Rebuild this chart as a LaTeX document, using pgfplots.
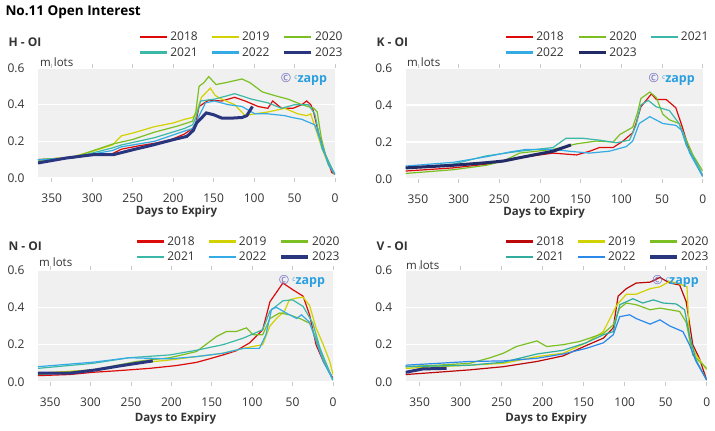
\documentclass[border=0pt]{standalone}
\usepackage{fontspec}
\setmainfont{Open Sans}
\usepackage{pgfplots}
\pgfplotsset{compat=1.18}
\definecolor{c18}{HTML}{DD0A0A}
\definecolor{c19}{HTML}{D2D200}
\definecolor{c20}{HTML}{7CBF22}
\definecolor{c21}{HTML}{3CB8A8}
\definecolor{c22}{HTML}{35ABE6}
\definecolor{c23}{HTML}{2A3580}
\definecolor{bggray}{HTML}{F0F0F0}
\definecolor{txt}{HTML}{333333}
\definecolor{tickgray}{HTML}{C8C8C8}
\definecolor{czpurple}{HTML}{6B6BC0}
\definecolor{czblue}{HTML}{2A9FE0}
\newcommand{\lgd}[2]{\addlegendimage{draw=#1, line width=2.2bp}\addlegendentry{\textcolor{txt}{#2}}}
\newcommand{\lgdthick}[2]{\addlegendimage{draw=#1, line width=3.6bp}\addlegendentry{\textcolor{txt}{#2}}}
\pgfplotsset{
  oi/.style={
    scale only axis,
    xmin=0, xmax=367, x dir=reverse,
    ymin=0, ymax=0.6,
    xtick={0,50,...,350},
    ytick={0,0.2,0.4,0.6},
    yticklabel style={/pgf/number format/fixed, /pgf/number format/fixed zerofill, /pgf/number format/precision=1},
    /pgf/number format/assume math mode=true,
    axis background/.style={fill=bggray},
    ymajorgrids, major grid style={white, line width=1.2bp},
    axis line style={draw=none},
    tick align=outside,
    major tick length=4bp,
    xtick style={draw=tickgray, line width=0.6bp},
    ytick style={draw=none},
    tick label style={font=\fontsize{12bp}{14bp}\selectfont, text=txt},
    xticklabel style={anchor=center, yshift=-16bp},
    yticklabel style={anchor=east, xshift=-6bp},
    xlabel={Days to Expiry},
    xlabel style={font=\bfseries\fontsize{11.5bp}{13bp}\selectfont, text=txt, anchor=center, xshift=-10bp},
    legend columns=3,
    legend cell align=left,
    legend style={draw=none, fill=none, anchor=north west, inner xsep=0pt, inner ysep=0pt,
      font=\fontsize{12bp}{14bp}\selectfont, row sep=3bp,
      nodes={inner xsep=2bp, inner ysep=1bp},
      /tikz/every even column/.append style={column sep=11bp}},
    legend image code/.code={\draw[#1] (0bp,0bp) -- (27bp,0bp);},
    every axis plot/.append style={line width=1.2bp, mark=none, forget plot},
  },
}
\newcommand{\czapp}{\node[anchor=east, font=\fontsize{12.5bp}{14bp}\selectfont] at (axis description cs:0.985,0.9) {{\color{czpurple}\textcopyright}\ {\color{czblue}\raisebox{0.35ex}{\fontsize{6.5bp}{7bp}\selectfont c}\textbf{zapp}}};}
\begin{document}
\begin{tikzpicture}
\path[use as bounding box] (0,0) rectangle (715bp,431bp);
\node[anchor=west, font=\bfseries\fontsize{13.5bp}{16bp}\selectfont, text=black] at (2bp,419bp) {No.11 Open Interest};
% ---------------- H ----------------
\begin{axis}[oi, at={(38bp,363bp)}, anchor=north west, width=297bp, height=110bp,
  xlabel style={at={(axis description cs:0.5,-0.309)}},
  legend style={at={(axis description cs:0.34,1.336)}}]
\lgd{c18}{2018}\lgd{c19}{2019}\lgd{c20}{2020}\lgd{c21}{2021}\lgd{c22}{2022}\lgdthick{c23}{2023}
\addplot[c18] coordinates {(367,0.10)(350,0.105)(325,0.11)(300,0.127)(275,0.133)(264,0.157)(243,0.175)(222,0.19)(202,0.21)(186,0.24)(176,0.27)(172,0.30)(168,0.39)(156,0.425)(140,0.42)(124,0.44)(111,0.42)(95,0.39)(83,0.38)(77,0.42)(66,0.38)(52,0.38)(41,0.40)(35,0.42)(30,0.40)(27,0.37)(20,0.24)(12,0.13)(4,0.03)(0,0.02)};
\addplot[c19] coordinates {(367,0.10)(350,0.105)(325,0.115)(300,0.145)(275,0.18)(264,0.23)(250,0.245)(223,0.28)(200,0.30)(186,0.32)(176,0.33)(172,0.35)(165,0.44)(154,0.49)(148,0.45)(140,0.43)(124,0.40)(111,0.34)(99,0.35)(83,0.36)(62,0.38)(46,0.35)(35,0.34)(30,0.35)(27,0.31)(16,0.16)(8,0.07)(0,0.02)};
\addplot[c20] coordinates {(367,0.093)(350,0.10)(325,0.11)(305,0.14)(275,0.185)(264,0.196)(250,0.21)(223,0.25)(194,0.284)(176,0.31)(172,0.36)(168,0.50)(162,0.52)(156,0.553)(147,0.51)(135,0.52)(115,0.54)(105,0.52)(90,0.47)(75,0.45)(58,0.43)(41,0.40)(26,0.38)(22,0.36)(17,0.22)(12,0.13)(2,0.03)(0,0.02)};
\addplot[c21] coordinates {(367,0.10)(350,0.105)(325,0.11)(300,0.136)(275,0.164)(264,0.18)(223,0.22)(186,0.27)(176,0.29)(172,0.33)(166,0.42)(149,0.43)(132,0.45)(124,0.46)(103,0.43)(83,0.41)(66,0.38)(50,0.40)(33,0.40)(25,0.35)(16,0.16)(8,0.09)(0,0.02)};
\addplot[c22] coordinates {(367,0.10)(350,0.10)(325,0.108)(300,0.13)(275,0.15)(264,0.17)(223,0.20)(190,0.25)(176,0.27)(170,0.32)(160,0.41)(149,0.42)(132,0.40)(115,0.39)(99,0.35)(83,0.35)(62,0.34)(53,0.33)(41,0.32)(25,0.29)(16,0.18)(8,0.07)(0,0.02)};
\addplot[c23, line width=3bp] coordinates {(367,0.082)(350,0.095)(332,0.109)(299,0.127)(274,0.127)(249,0.155)(225,0.18)(200,0.209)(183,0.227)(175,0.26)(171,0.30)(159,0.355)(150,0.345)(140,0.327)(126,0.327)(115,0.33)(109,0.34)(102,0.39)};
\czapp
\end{axis}
% ---------------- K ----------------
\begin{axis}[oi, at={(405.7bp,363bp)}, anchor=north west, width=297bp, height=111bp, xmax=365,
  xlabel style={at={(axis description cs:0.5,-0.30)}},
  legend style={at={(axis description cs:0.334,1.333)}}]
\lgd{c18}{2018}\lgd{c20}{2020}\lgd{c21}{2021}\lgd{c22}{2022}\lgdthick{c23!80!black}{2023}
\addplot[c18] coordinates {(365,0.043)(307,0.06)(266,0.08)(225,0.115)(184,0.14)(155,0.13)(139,0.15)(127,0.17)(110,0.17)(98,0.205)(86,0.25)(82,0.30)(76,0.39)(63,0.46)(57,0.43)(45,0.43)(33,0.385)(25,0.28)(16,0.15)(8,0.09)(0,0.016)};
\addplot[c20] coordinates {(365,0.03)(307,0.05)(266,0.074)(245,0.097)(225,0.14)(184,0.16)(155,0.19)(131,0.205)(110,0.20)(102,0.24)(86,0.28)(80,0.36)(76,0.435)(65,0.47)(57,0.44)(49,0.35)(41,0.32)(29,0.30)(20,0.21)(12,0.13)(0,0.043)};
\addplot[c21] coordinates {(365,0.06)(307,0.08)(266,0.125)(225,0.15)(184,0.17)(168,0.22)(147,0.22)(127,0.21)(106,0.196)(90,0.21)(82,0.29)(76,0.40)(67,0.425)(57,0.39)(41,0.37)(29,0.30)(20,0.18)(8,0.09)(0,0.02)};
\addplot[c22] coordinates {(365,0.07)(307,0.09)(266,0.12)(237,0.146)(217,0.16)(184,0.16)(164,0.15)(139,0.14)(115,0.15)(94,0.175)(86,0.205)(78,0.30)(65,0.337)(49,0.30)(33,0.29)(25,0.26)(16,0.14)(0,0.013)};
\addplot[c23!80!black, line width=3bp] coordinates {(365,0.06)(307,0.074)(266,0.088)(245,0.097)(225,0.115)(204,0.133)(184,0.15)(162,0.184)};
\czapp
\end{axis}
% ---------------- N ----------------
\begin{axis}[oi, at={(38bp,161bp)}, anchor=north west, width=295bp, height=112bp, xmax=365,
  xlabel style={at={(axis description cs:0.5,-0.324)}},
  legend style={at={(axis description cs:0.332,1.31)}}]
\lgd{c18}{2018}\lgd{c19}{2019}\lgd{c20}{2020}\lgd{c21}{2021}\lgd{c22}{2022}\lgdthick{c23}{2023}
\addplot[c18] coordinates {(365,0.034)(326,0.04)(297,0.052)(268,0.06)(227,0.073)(194,0.088)(169,0.105)(153,0.124)(136,0.145)(120,0.167)(103,0.21)(87,0.28)(78,0.43)(70,0.48)(62,0.53)(50,0.495)(37,0.46)(29,0.36)(21,0.20)(12,0.11)(0,0.02)};
\addplot[c19] coordinates {(365,0.047)(297,0.065)(243,0.10)(202,0.118)(169,0.136)(136,0.154)(111,0.18)(87,0.20)(78,0.30)(70,0.34)(60,0.38)(54,0.44)(45,0.45)(37,0.455)(29,0.41)(21,0.29)(12,0.20)(4,0.11)(0,0.04)};
\addplot[c20] coordinates {(365,0.04)(297,0.065)(243,0.11)(202,0.13)(169,0.163)(144,0.244)(132,0.27)(120,0.27)(107,0.29)(99,0.253)(87,0.253)(78,0.34)(66,0.37)(54,0.36)(41,0.34)(29,0.315)(21,0.235)(12,0.127)(0,0.01)};
\addplot[c21] coordinates {(365,0.073)(297,0.10)(252,0.13)(202,0.145)(169,0.17)(136,0.20)(111,0.235)(87,0.28)(78,0.38)(62,0.435)(50,0.44)(37,0.405)(25,0.315)(16,0.18)(0,0.01)};
\addplot[c22] coordinates {(365,0.082)(297,0.106)(252,0.13)(202,0.124)(169,0.136)(136,0.154)(111,0.18)(91,0.18)(83,0.253)(76,0.39)(70,0.40)(58,0.37)(45,0.34)(39,0.36)(29,0.32)(21,0.22)(12,0.11)(0,0.01)};
\addplot[c23, line width=3bp] coordinates {(365,0.047)(326,0.047)(293,0.065)(264,0.086)(243,0.10)(223,0.113)};
\czapp
\end{axis}
% ---------------- V ----------------
\begin{axis}[oi, at={(405.7bp,161bp)}, anchor=north west, width=301bp, height=112bp,
  xlabel style={at={(axis description cs:0.5,-0.324)}},
  legend style={at={(axis description cs:0.33,1.31)}}]
\lgd{c18!85!black}{2018}\lgd{c19}{2019}\lgd{c20}{2020}\lgd{c21!80!teal}{2021}\lgd{c22!80!blue}{2022}\lgdthick{c23}{2023}
\addplot[c18!85!black] coordinates {(367,0.04)(329,0.052)(289,0.065)(248,0.082)(207,0.11)(175,0.14)(147,0.195)(126,0.235)(114,0.29)(108,0.46)(98,0.50)(86,0.53)(69,0.535)(57,0.56)(45,0.53)(33,0.52)(25,0.43)(17,0.20)(9,0.127)(0,0.01)};
\addplot[c19] coordinates {(367,0.073)(329,0.082)(289,0.09)(248,0.10)(207,0.136)(175,0.154)(147,0.21)(126,0.27)(110,0.41)(98,0.47)(86,0.47)(69,0.50)(57,0.51)(45,0.54)(33,0.525)(24,0.51)(21,0.22)(13,0.145)(4,0.09)(0,0.065)};
\addplot[c20] coordinates {(367,0.082)(329,0.09)(289,0.10)(264,0.13)(248,0.154)(232,0.19)(207,0.22)(195,0.19)(175,0.20)(155,0.217)(126,0.26)(114,0.306)(106,0.396)(98,0.423)(86,0.414)(69,0.387)(57,0.396)(45,0.387)(33,0.378)(25,0.32)(17,0.145)(4,0.09)(0,0.073)};
\addplot[c21!80!teal] coordinates {(367,0.082)(289,0.09)(248,0.106)(207,0.15)(175,0.17)(147,0.21)(126,0.253)(114,0.27)(106,0.414)(90,0.446)(78,0.423)(65,0.44)(53,0.423)(37,0.418)(27,0.387)(21,0.25)(13,0.118)(0,0.01)};
\addplot[c22!80!blue] coordinates {(367,0.09)(289,0.11)(248,0.113)(207,0.127)(175,0.15)(147,0.18)(126,0.21)(114,0.253)(106,0.35)(94,0.36)(86,0.34)(69,0.31)(57,0.333)(45,0.30)(29,0.27)(21,0.20)(13,0.11)(0,0.01)};
\addplot[c23, line width=3bp] coordinates {(367,0.052)(346,0.07)(317,0.073)};
\czapp
\end{axis}
% titles
\node[anchor=west, font=\bfseries\fontsize{12bp}{14bp}\selectfont, text=txt] at (5bp,389bp) {H - OI};
\node[anchor=west, font=\bfseries\fontsize{12bp}{14bp}\selectfont, text=txt] at (373bp,389bp) {K - OI};
\node[anchor=west, font=\bfseries\fontsize{12bp}{14bp}\selectfont, text=txt] at (5bp,184.3bp) {N - OI};
\node[anchor=west, font=\bfseries\fontsize{12bp}{14bp}\selectfont, text=txt] at (373bp,184.3bp) {V - OI};
\node[anchor=west, font=\fontsize{11.5bp}{14bp}\selectfont, text=txt, inner sep=0pt] at (40bp,369bp) {m lots};
\node[anchor=west, font=\fontsize{11.5bp}{14bp}\selectfont, text=txt, inner sep=0pt] at (407bp,369bp) {m lots};
\node[anchor=west, font=\fontsize{11.5bp}{14bp}\selectfont, text=txt, inner sep=0pt] at (39bp,168.7bp) {m lots};
\node[anchor=west, font=\fontsize{11.5bp}{14bp}\selectfont, text=txt, inner sep=0pt] at (406bp,166bp) {m lots};
\end{tikzpicture}
\end{document}
